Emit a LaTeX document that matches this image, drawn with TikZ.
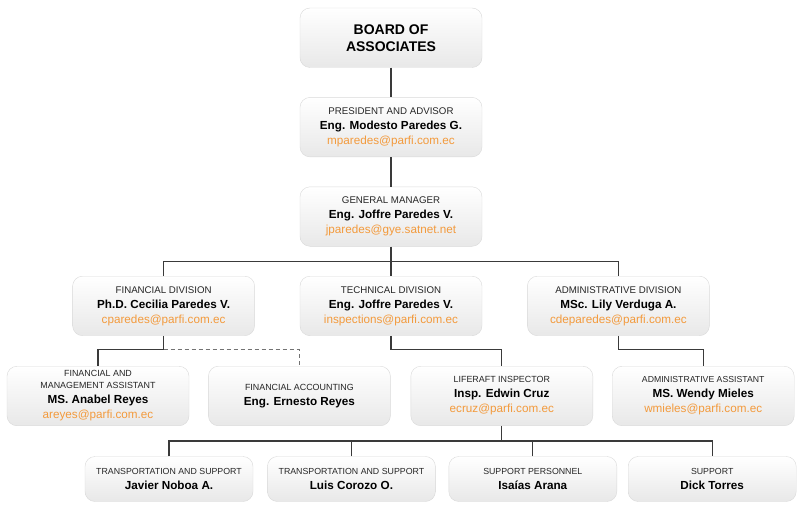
\documentclass[tikz,border=0pt]{standalone}
\usepackage{fontspec}
\setmainfont{Liberation Sans}
\usetikzlibrary{positioning,calc}
\definecolor{mailorange}{HTML}{F39A3C}
\definecolor{boxline}{HTML}{D9D9D9}
\definecolor{boxfill}{HTML}{E8E8E8}
\definecolor{wire}{HTML}{3A3A3A}
\newcommand{\role}[2][9.7]{{\fontsize{#1}{10}\selectfont\color{black!85}#2}}
\newcommand{\who}[1]{\textbf{#1}}
\newcommand{\mail}[1]{{\color{mailorange}#1}}

\begin{document}
\begin{tikzpicture}[x=1pt,y=-1pt,
		unit/.style={draw=boxline,rounded corners=10pt,top color=white,bottom color=boxfill,minimum width=182pt,minimum height=59.5pt,inner sep=2pt,align=center,font={\fontsize{11.7}{15}\selectfont}},
		low/.style={unit,minimum width=168pt,minimum height=45pt},
		link/.style={draw=wire,line width=1.1pt}
		]
		\useasboundingbox (0,0) rectangle (800,508);
		
		\node [unit,font={\fontsize{14}{17}\selectfont\bfseries}] (board) at (391,37.75) {BOARD OF\\ASSOCIATES};
		\node [unit,below=29.5pt of board] (pres) {\role{PRESIDENT AND ADVISOR}\\\who{Eng. Modesto Paredes G.}\\\mail{mparedes@parfi.com.ec}};
		\node [unit,below=29.5pt of pres] (gm) {\role{GENERAL MANAGER}\\\who{Eng. Joffre Paredes V.}\\\mail{jparedes@gye.satnet.net}};
		\node [unit,below=29.5pt of gm] (tech) {\role{TECHNICAL DIVISION}\\\who{Eng. Joffre Paredes V.}\\\mail{inspections@parfi.com.ec}};
		\node [unit,left=45pt of tech] (fin) {\role{FINANCIAL DIVISION}\\\who{Ph.D. Cecilia Paredes V.}\\\mail{cparedes@parfi.com.ec}};
		\node [unit,right=45pt of tech] (admin) {\role{ADMINISTRATIVE DIVISION}\\\who{MSc. Lily Verduga A.}\\\mail{cdeparedes@parfi.com.ec}};
		
		\node [unit] (fma) at (98,396) {\role[8.9]{FINANCIAL AND}\\[-3pt]\role[8.9]{MANAGEMENT ASSISTANT}\\\who{MS. Anabel Reyes}\\\mail{areyes@parfi.com.ec}};
		\node [unit,right=19pt of fma] (acct) {\role[8.9]{FINANCIAL ACCOUNTING}\\\who{Eng. Ernesto Reyes}};
		\node [unit,right=20pt of acct] (raft) {\role[8.9]{LIFERAFT INSPECTOR}\\\who{Insp. Edwin Cruz}\\\mail{ecruz@parfi.com.ec}};
		\node [unit,right=19pt of raft] (aa) {\role[8.7]{ADMINISTRATIVE ASSISTANT}\\\who{MS. Wendy Mieles}\\\mail{wmieles@parfi.com.ec}};
		
		\node [low] (javier) at (169,479) {\role[8.8]{TRANSPORTATION AND SUPPORT}\\\who{Javier Noboa A.}};
		\node [low,right=14pt of javier] (luis) {\role[8.8]{TRANSPORTATION AND SUPPORT}\\\who{Luis Corozo O.}};
		\node [low,right=13pt of luis] (isaias) {\role[8.8]{SUPPORT PERSONNEL}\\\who{Isaías Arana}};
		\node [low,right=11pt of isaias] (dick) {\role[8.8]{SUPPORT}\\\who{Dick Torres}};
		
		\coordinate (bus1) at ($(gm.south)+(0,15)$);
		\coordinate (bus2) at ($(raft.south)+(0,15)$);
		
		\path [link] (board) -- (pres);
		\path [link] (pres) -- (gm);
		\path [link] (gm.south) -- (tech.north);
		\path [link] (fin.north) |- (bus1) -| (admin.north);
		\path [link] (fin.south) -- ++(0,14) -| (fma.north);
		\path [link,draw=black!55,dash pattern=on 4pt off 3pt] (fin.south) ++(0,14) -| (acct.north);
		\path [link] (tech.south) -- ++(0,14) -| (raft.north);
		\path [link] (admin.south) -- ++(0,14) -| (aa.north);
		\path [link] (raft.south) -- (bus2);
		\path [link] (javier.north) |- (bus2) -| (dick.north);
		\foreach \n in {luis,isaias}
			\path [link] (\n.north) -- (\n.north |- bus2);
		
	\end{tikzpicture}
\end{document}
